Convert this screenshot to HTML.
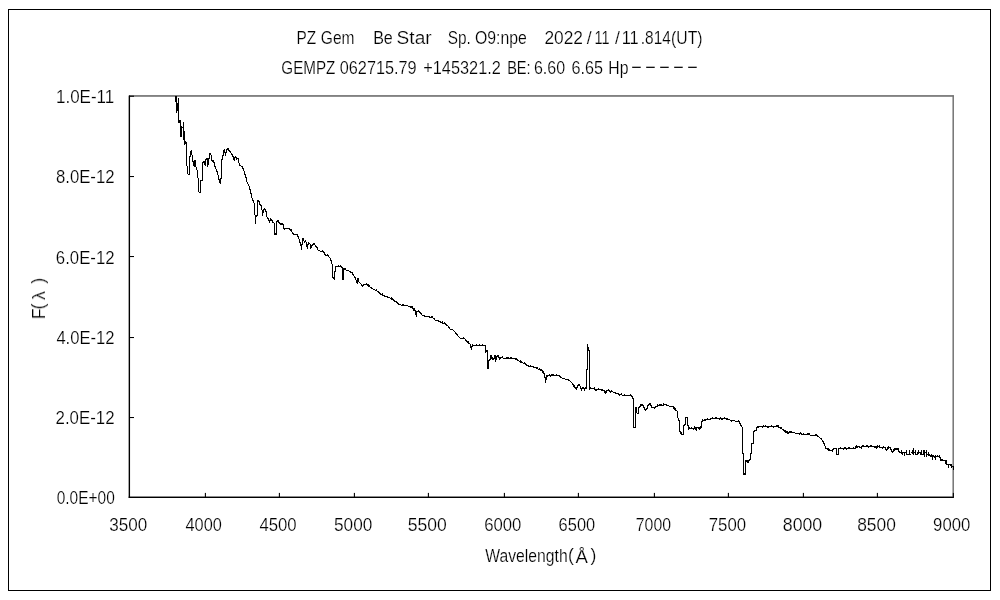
<!DOCTYPE html>
<html lang="ja"><head><meta charset="utf-8"><title>PZ Gem spectrum</title>
<style>
html,body{margin:0;padding:0;background:#fff;overflow:hidden}
svg{display:block}
text{font-family:"Liberation Sans", "IPAGothic", sans-serif;font-size:17.6px;fill:#000;stroke:#fff;stroke-width:.2px}
</style></head>
<body>
<svg width="1000" height="600" viewBox="0 0 1000 600">
<rect width="1000" height="600" fill="#fff"/>
<rect x="8.5" y="9.5" width="982" height="581" fill="none" stroke="#000" stroke-width="1"/>
<rect x="129" y="95.1" width="824.9" height="1.7" fill="#747474"/>
<rect x="952.45" y="95.6" width="1.5" height="401" fill="#747474"/>
<rect x="128.65" y="95.6" width="1.4" height="402.2" fill="#000"/>
<rect x="128.65" y="496.55" width="825.25" height="1.45" fill="#000"/>
<rect x="129" y="95.7" width="5" height="1.05" fill="#000"/>
<rect x="129" y="176.0" width="5" height="1.05" fill="#000"/>
<rect x="129" y="256.0" width="5" height="1.05" fill="#000"/>
<rect x="129" y="337.0" width="5" height="1.05" fill="#000"/>
<rect x="129" y="417.0" width="5" height="1.05" fill="#000"/>
<rect x="204.85" y="492.9" width="1.1" height="4.5" fill="#000"/>
<rect x="278.85" y="492.9" width="1.1" height="4.5" fill="#000"/>
<rect x="353.85" y="492.9" width="1.1" height="4.5" fill="#000"/>
<rect x="427.85" y="492.9" width="1.1" height="4.5" fill="#000"/>
<rect x="503.85" y="492.9" width="1.1" height="4.5" fill="#000"/>
<rect x="577.85" y="492.9" width="1.1" height="4.5" fill="#000"/>
<rect x="653.85" y="492.9" width="1.1" height="4.5" fill="#000"/>
<rect x="727.85" y="492.9" width="1.1" height="4.5" fill="#000"/>
<rect x="802.85" y="492.9" width="1.1" height="4.5" fill="#000"/>
<rect x="876.85" y="492.9" width="1.1" height="4.5" fill="#000"/>
<rect x="952.80" y="492.9" width="1.1" height="4.5" fill="#000"/>
<path d="M175.5 96V102M176.5 96V113M177.5 103V111M178.5 98V123M179.5 120V123M180.5 120V137M181.5 126V137M182.5 127V128M183.5 122V140M184.5 131V145M185.5 141V144M186.5 142V166M187.5 166V174M188.5 174V175M189.5 156V175M190.5 151V157M191.5 150V155M192.5 155V162M193.5 161V166M194.5 160V167M195.5 160V167M196.5 167V170M197.5 170V178M198.5 178V192M199.5 192V193M200.5 180V193M201.5 180V181M202.5 162V181M203.5 161V163M204.5 161V165M205.5 159V166M206.5 158V160M207.5 158V167M208.5 158V165M209.5 153V159M210.5 153V155M211.5 155V161M212.5 160V162M213.5 160V163M214.5 162V167M215.5 166V169M216.5 169V172M217.5 171V175M218.5 175V180M219.5 179V183M220.5 178V184M221.5 159V179M222.5 155V160M223.5 150V156M224.5 149V153M225.5 152V156M226.5 149V153M227.5 148V150M228.5 148V151M229.5 150V152M230.5 151V153M231.5 153V155M232.5 154V157M233.5 156V160M234.5 157V161M235.5 156V158M236.5 157V160M237.5 158V159M238.5 158V163M239.5 163V166M240.5 165V166M241.5 166V167M242.5 166V169M243.5 168V171M244.5 171V175M245.5 174V178M246.5 177V182M247.5 182V184M248.5 184V186M249.5 186V190M250.5 189V194M251.5 193V198M252.5 198V201M253.5 200V203M254.5 203V215M255.5 215V224M256.5 215V217M257.5 200V216M258.5 200V202M259.5 201V205M260.5 204V206M261.5 205V210M262.5 210V216M263.5 209V213M264.5 208V210M265.5 209V212M266.5 211V217M267.5 217V219M268.5 218V221M269.5 220V223M270.5 218V221M271.5 219V221M272.5 220V223M273.5 222V223M274.5 223V235M275.5 233V235M276.5 221V235M277.5 220V222M278.5 220V223M279.5 222V224M280.5 223V225M281.5 223V225M282.5 223V225M283.5 224V229M284.5 228V230M285.5 228V229M286.5 228V229M287.5 228V229M288.5 228V229M289.5 228V230M290.5 229V231M291.5 229V232M292.5 232V234M293.5 233V235M294.5 234V235M295.5 234V235M296.5 234V235M297.5 234V237M298.5 236V239M299.5 239V243M300.5 242V246M301.5 244V250M302.5 238V245M303.5 238V241M304.5 241V243M305.5 240V242M306.5 242V247M307.5 244V249M308.5 242V245M309.5 243V244M310.5 244V249M311.5 245V248M312.5 244V246M313.5 243V245M314.5 243V245M315.5 245V247M316.5 246V248M317.5 247V250M318.5 250V251M319.5 250V251M320.5 251V252M321.5 251V252M322.5 250V252M323.5 251V253M324.5 252V255M325.5 254V256M326.5 255V256M327.5 254V256M328.5 255V257M329.5 257V258M330.5 258V261M331.5 260V264M332.5 264V278M333.5 277V279M334.5 271V280M335.5 266V272M336.5 266V267M337.5 266V267M338.5 265V267M339.5 266V267M340.5 265V267M341.5 266V268M342.5 267V280M343.5 268V280M344.5 268V270M345.5 268V270M346.5 270V271M347.5 270V271M348.5 270V271M349.5 271V272M350.5 271V273M351.5 272V273M352.5 272V275M353.5 274V276M354.5 276V278M355.5 277V280M356.5 280V283M357.5 278V284M358.5 278V282M359.5 282V283M360.5 283V284M361.5 284V286M362.5 285V287M363.5 284V286M364.5 284V285M365.5 284V285M366.5 283V285M367.5 284V286M368.5 284V287M369.5 285V287M370.5 287V288M371.5 287V289M372.5 288V289M373.5 289V290M374.5 289V290M375.5 290V291M376.5 289V291M377.5 291V292M378.5 291V293M379.5 292V294M380.5 293V295M381.5 294V295M382.5 293V296M383.5 295V296M384.5 295V297M385.5 296V297M386.5 296V297M387.5 296V298M388.5 297V298M389.5 297V298M390.5 298V299M391.5 297V300M392.5 298V300M393.5 299V301M394.5 300V302M395.5 301V302M396.5 301V303M397.5 302V304M398.5 303V305M399.5 304V305M400.5 304V305M401.5 305V306M402.5 304V306M403.5 304V306M404.5 305V306M405.5 305V306M406.5 305V306M407.5 305V306M408.5 306V307M409.5 306V307M410.5 306V308M411.5 306V308M412.5 306V309M413.5 308V311M414.5 308V311M415.5 310V315M416.5 311V317M417.5 311V312M418.5 310V312M419.5 311V313M420.5 312V314M421.5 313V315M422.5 315V316M423.5 315V316M424.5 315V317M425.5 316V317M426.5 316V317M427.5 316V317M428.5 316V317M429.5 316V318M430.5 317V318M431.5 316V318M432.5 316V318M433.5 318V319M434.5 318V320M435.5 320V321M436.5 320V321M437.5 320V321M438.5 320V322M439.5 321V322M440.5 321V323M441.5 322V323M442.5 321V324M443.5 323V324M444.5 322V324M445.5 323V325M446.5 324V326M447.5 325V326M448.5 326V328M449.5 327V329M450.5 329V330M451.5 329V330M452.5 329V330M453.5 330V331M454.5 331V332M455.5 332V334M456.5 333V335M457.5 334V336M458.5 336V337M459.5 337V338M460.5 338V339M461.5 338V339M462.5 338V339M463.5 337V339M464.5 338V339M465.5 339V341M466.5 340V342M467.5 341V343M468.5 341V344M469.5 343V344M470.5 344V348M471.5 346V350M472.5 344V347M473.5 345V346M474.5 345V346M475.5 345V346M476.5 344V346M477.5 345V346M478.5 345V346M479.5 344V346M480.5 345V346M481.5 345V346M482.5 344V346M483.5 345V346M484.5 345V346M485.5 345V353M486.5 350V352M487.5 350V369M488.5 360V369M489.5 359V361M490.5 355V360M491.5 355V359M492.5 357V360M493.5 358V360M494.5 355V359M495.5 355V362M496.5 356V360M497.5 355V357M498.5 355V358M499.5 357V360M500.5 357V359M501.5 357V358M502.5 356V358M503.5 358V359M504.5 358V359M505.5 358V359M506.5 357V359M507.5 357V359M508.5 357V359M509.5 358V359M510.5 357V359M511.5 357V359M512.5 358V359M513.5 358V359M514.5 358V359M515.5 358V360M516.5 358V360M517.5 359V361M518.5 360V361M519.5 361V362M520.5 360V363M521.5 361V363M522.5 362V363M523.5 363V364M524.5 362V364M525.5 363V365M526.5 364V366M527.5 365V366M528.5 365V367M529.5 366V367M530.5 365V367M531.5 366V367M532.5 366V367M533.5 366V368M534.5 367V368M535.5 367V368M536.5 367V369M537.5 367V369M538.5 369V370M539.5 368V370M540.5 369V371M541.5 369V371M542.5 370V373M543.5 371V374M544.5 373V378M545.5 377V383M546.5 375V380M547.5 375V377M548.5 375V376M549.5 374V376M550.5 375V377M551.5 374V376M552.5 374V376M553.5 374V376M554.5 375V376M555.5 375V376M556.5 374V376M557.5 375V376M558.5 375V376M559.5 375V377M560.5 376V378M561.5 377V378M562.5 378V379M563.5 378V379M564.5 378V379M565.5 379V380M566.5 379V380M567.5 379V380M568.5 379V381M569.5 380V381M570.5 381V382M571.5 382V383M572.5 383V385M573.5 384V387M574.5 385V388M575.5 387V389M576.5 387V390M577.5 385V388M578.5 384V386M579.5 384V386M580.5 386V389M581.5 388V391M582.5 387V389M583.5 387V389M584.5 388V391M585.5 387V389M586.5 369V389M587.5 344V370M588.5 347V351M589.5 350V390M590.5 387V389M591.5 388V389M592.5 388V389M593.5 388V389M594.5 387V390M595.5 389V391M596.5 389V391M597.5 389V390M598.5 388V390M599.5 389V390M600.5 389V390M601.5 389V391M602.5 389V391M603.5 390V391M604.5 390V393M605.5 391V394M606.5 390V393M607.5 390V391M608.5 389V391M609.5 390V392M610.5 391V393M611.5 390V392M612.5 391V392M613.5 392V393M614.5 392V393M615.5 392V394M616.5 393V394M617.5 393V394M618.5 393V395M619.5 394V396M620.5 394V395M621.5 393V395M622.5 395V396M623.5 395V396M624.5 394V396M625.5 395V396M626.5 395V396M627.5 395V396M628.5 395V396M629.5 395V396M630.5 394V396M631.5 395V397M632.5 396V399M633.5 398V428M634.5 427V428M635.5 407V428M636.5 407V413M637.5 413V414M638.5 407V414M639.5 406V408M640.5 404V407M641.5 404V406M642.5 404V406M643.5 405V408M644.5 407V410M645.5 409V411M646.5 408V410M647.5 405V409M648.5 404V406M649.5 403V405M650.5 403V406M651.5 405V408M652.5 407V408M653.5 407V408M654.5 407V409M655.5 406V408M656.5 406V407M657.5 404V407M658.5 405V406M659.5 404V406M660.5 404V406M661.5 404V406M662.5 405V406M663.5 403V406M664.5 404V405M665.5 404V405M666.5 404V406M667.5 405V406M668.5 405V406M669.5 406V407M670.5 406V407M671.5 406V407M672.5 406V407M673.5 406V409M674.5 407V410M675.5 408V411M676.5 410V411M677.5 411V418M678.5 418V421M679.5 420V432M680.5 431V434M681.5 432V435M682.5 434V435M683.5 425V435M684.5 424V426M685.5 417V425M686.5 417V418M687.5 417V426M688.5 425V430M689.5 427V429M690.5 428V429M691.5 427V429M692.5 428V429M693.5 428V430M694.5 426V429M695.5 427V430M696.5 427V431M697.5 427V428M698.5 427V429M699.5 427V430M700.5 426V429M701.5 421V428M702.5 419V422M703.5 420V421M704.5 419V421M705.5 419V421M706.5 419V420M707.5 418V420M708.5 419V420M709.5 419V420M710.5 418V420M711.5 418V419M712.5 417V419M713.5 418V419M714.5 418V419M715.5 417V419M716.5 417V419M717.5 418V419M718.5 418V419M719.5 418V420M720.5 417V419M721.5 418V420M722.5 418V420M723.5 418V419M724.5 417V419M725.5 418V419M726.5 418V420M727.5 418V420M728.5 419V420M729.5 419V420M730.5 420V421M731.5 420V422M732.5 420V421M733.5 420V421M734.5 420V421M735.5 421V422M736.5 421V422M737.5 421V422M738.5 420V422M739.5 421V424M740.5 423V426M741.5 425V427M742.5 427V454M743.5 453V475M744.5 473V475M745.5 460V475M746.5 460V462M747.5 460V463M748.5 460V463M749.5 459V461M750.5 453V460M751.5 443V454M752.5 443V444M753.5 431V444M754.5 430V432M755.5 430V431M756.5 427V431M757.5 426V428M758.5 426V428M759.5 426V427M760.5 426V427M761.5 426V427M762.5 426V428M763.5 425V427M764.5 426V427M765.5 425V427M766.5 426V427M767.5 426V428M768.5 426V428M769.5 426V427M770.5 426V427M771.5 425V427M772.5 426V427M773.5 426V428M774.5 426V427M775.5 426V427M776.5 425V427M777.5 425V427M778.5 425V428M779.5 427V428M780.5 427V429M781.5 427V429M782.5 429V430M783.5 429V431M784.5 430V432M785.5 430V433M786.5 431V433M787.5 431V434M788.5 432V434M789.5 431V433M790.5 431V433M791.5 431V433M792.5 432V433M793.5 432V433M794.5 432V433M795.5 433V434M796.5 433V434M797.5 433V434M798.5 433V434M799.5 433V435M800.5 432V434M801.5 433V435M802.5 434V435M803.5 433V435M804.5 434V435M805.5 434V435M806.5 434V435M807.5 433V435M808.5 433V435M809.5 433V435M810.5 435V436M811.5 435V436M812.5 435V436M813.5 435V436M814.5 435V436M815.5 434V436M816.5 434V436M817.5 435V437M818.5 436V437M819.5 437V438M820.5 438V439M821.5 438V440M822.5 440V442M823.5 441V444M824.5 443V446M825.5 446V449M826.5 448V449M827.5 448V450M828.5 448V451M829.5 449V451M830.5 450V451M831.5 450V451M832.5 449V452M833.5 448V450M834.5 448V449M835.5 448V449M836.5 448V455M837.5 454V455M838.5 448V455M839.5 448V449M840.5 447V449M841.5 448V449M842.5 448V449M843.5 448V450M844.5 447V449M845.5 447V449M846.5 448V450M847.5 448V449M848.5 447V449M849.5 447V449M850.5 448V449M851.5 448V449M852.5 448V449M853.5 447V449M854.5 448V449M855.5 446V449M856.5 445V448M857.5 446V448M858.5 446V447M859.5 446V448M860.5 447V448M861.5 446V449M862.5 445V447M863.5 445V447M864.5 446V447M865.5 446V447M866.5 445V447M867.5 445V447M868.5 446V448M869.5 446V447M870.5 445V447M871.5 445V447M872.5 446V447M873.5 446V447M874.5 446V448M875.5 446V448M876.5 446V449M877.5 445V448M878.5 446V447M879.5 445V448M880.5 447V448M881.5 447V448M882.5 447V449M883.5 446V448M884.5 447V448M885.5 447V450M886.5 449V451M887.5 447V450M888.5 446V449M889.5 447V448M890.5 447V450M891.5 449V452M892.5 451V453M893.5 449V452M894.5 448V451M895.5 448V450M896.5 448V450M897.5 448V450M898.5 448V452M899.5 451V453M900.5 452V453M901.5 450V454M902.5 452V455M903.5 452V453M904.5 452V456M905.5 452V453M906.5 450V455M907.5 454V455M908.5 454V455M909.5 450V455M910.5 454V455M911.5 452V453M912.5 450V454M913.5 448V455M914.5 452V453M915.5 450V455M916.5 454V455M917.5 452V455M918.5 450V454M919.5 452V453M920.5 452V455M921.5 450V455M922.5 454V455M923.5 450V455M924.5 450V457M925.5 452V453M926.5 450V457M927.5 454V455M928.5 452V456M929.5 454V456M930.5 455V457M931.5 454V457M932.5 455V460M933.5 455V457M934.5 456V458M935.5 455V460M936.5 456V457M937.5 455V457M938.5 456V457M939.5 455V458M940.5 457V461M941.5 459V461M942.5 459V461M943.5 460V461M944.5 460V461M945.5 460V464M946.5 460V465M947.5 464V465M948.5 464V468M949.5 464V465M950.5 464V466M951.5 464V468M952.5 466V467M953.5 466V470" stroke="#000" stroke-width="1" fill="none"/>
<g opacity="0.999">
<text y="43.8"><tspan x="296.56" textLength="19.64" lengthAdjust="spacingAndGlyphs">PZ</tspan> <tspan x="320.80" textLength="33.67" lengthAdjust="spacingAndGlyphs">Gem</tspan> <tspan x="373.15" textLength="19.63" lengthAdjust="spacingAndGlyphs">Be</tspan> <tspan x="396.59" textLength="35.09" lengthAdjust="spacingAndGlyphs">Star</tspan> <tspan x="447.72" textLength="23.09" lengthAdjust="spacingAndGlyphs">Sp.</tspan> <tspan x="474.95" textLength="51.93" lengthAdjust="spacingAndGlyphs">O9:npe</tspan> <tspan x="544.46" textLength="38.53" lengthAdjust="spacingAndGlyphs">2022</tspan><tspan x="586.75" textLength="4.90" lengthAdjust="spacing">/</tspan><tspan x="594.62" textLength="15.06" lengthAdjust="spacingAndGlyphs">11</tspan><tspan x="615.00" textLength="4.90" lengthAdjust="spacing">/</tspan><tspan x="621.66" textLength="17.02" lengthAdjust="spacingAndGlyphs">11</tspan><tspan x="640.85" textLength="29.95" lengthAdjust="spacingAndGlyphs">.814</tspan><tspan x="671.06" textLength="31.41" lengthAdjust="spacingAndGlyphs">(UT)</tspan></text>
<text y="73.8"><tspan x="281.37" textLength="54.05" lengthAdjust="spacingAndGlyphs">GEMPZ</tspan> <tspan x="339.75" textLength="76.89" lengthAdjust="spacingAndGlyphs">062715.79</tspan> <tspan x="423.19" textLength="77.65" lengthAdjust="spacingAndGlyphs">+145321.2</tspan> <tspan x="507.14" textLength="23.53" lengthAdjust="spacingAndGlyphs">BE:</tspan> <tspan x="533.95" textLength="31.19" lengthAdjust="spacingAndGlyphs">6.60</tspan> <tspan x="571.42" textLength="31.47" lengthAdjust="spacingAndGlyphs">6.65</tspan> <tspan x="608.28" textLength="20.18" lengthAdjust="spacingAndGlyphs">Hp</tspan><tspan x="631.2" dy="-0.7" stroke="none">−</tspan><tspan x="645.2" stroke="none">−</tspan><tspan x="659.3" stroke="none">−</tspan><tspan x="673.3" stroke="none">−</tspan><tspan x="687.3" stroke="none">−</tspan></text>
<text y="102.8"><tspan x="55.97" textLength="58.21" lengthAdjust="spacingAndGlyphs">1.0E-11</tspan></text>
<text y="183.0"><tspan x="55.93" textLength="58.66" lengthAdjust="spacingAndGlyphs">8.0E-12</tspan></text>
<text y="264.0"><tspan x="55.85" textLength="58.72" lengthAdjust="spacingAndGlyphs">6.0E-12</tspan></text>
<text y="344.0"><tspan x="56.39" textLength="58.18" lengthAdjust="spacingAndGlyphs">4.0E-12</tspan></text>
<text y="424.0"><tspan x="55.58" textLength="58.98" lengthAdjust="spacingAndGlyphs">2.0E-12</tspan></text>
<text y="504.0"><tspan x="56.74" textLength="58.02" lengthAdjust="spacingAndGlyphs">0.0E+00</tspan></text>
<text y="531"><tspan x="109.35" textLength="38.00" lengthAdjust="spacingAndGlyphs">3500</tspan></text>
<text y="531"><tspan x="185.54" textLength="36.31" lengthAdjust="spacingAndGlyphs">4000</tspan></text>
<text y="531"><tspan x="259.38" textLength="37.30" lengthAdjust="spacingAndGlyphs">4500</tspan></text>
<text y="531"><tspan x="334.02" textLength="38.29" lengthAdjust="spacingAndGlyphs">5000</tspan></text>
<text y="531"><tspan x="407.66" textLength="39.07" lengthAdjust="spacingAndGlyphs">5500</tspan></text>
<text y="531"><tspan x="484.20" textLength="37.21" lengthAdjust="spacingAndGlyphs">6000</tspan></text>
<text y="531"><tspan x="558.61" textLength="36.56" lengthAdjust="spacingAndGlyphs">6500</tspan></text>
<text y="531"><tspan x="635.80" textLength="35.19" lengthAdjust="spacingAndGlyphs">7000</tspan></text>
<text y="531"><tspan x="708.74" textLength="37.39" lengthAdjust="spacingAndGlyphs">7500</tspan></text>
<text y="531"><tspan x="782.81" textLength="39.43" lengthAdjust="spacingAndGlyphs">8000</tspan></text>
<text y="531"><tspan x="857.16" textLength="38.72" lengthAdjust="spacingAndGlyphs">8500</tspan></text>
<text y="531"><tspan x="933.10" textLength="37.18" lengthAdjust="spacingAndGlyphs">9000</tspan></text>
<text y="562"><tspan x="485.31" textLength="82.33" lengthAdjust="spacingAndGlyphs">Wavelength</tspan><tspan x="568.1" dy="-1.3">(</tspan><tspan x="575.4" dy="2.5" font-size="18.6">Å</tspan><tspan x="590.6" dy="-2.5">)</tspan></text>
<text transform="translate(45 319.2) rotate(-90)"><tspan x="0">F</tspan><tspan x="9.7" dy="-1.5">(</tspan><tspan x="19.3" dy="1.5">λ</tspan><tspan x="35.4" dy="-1.5">)</tspan></text>
</g>
</svg>
</body></html>
